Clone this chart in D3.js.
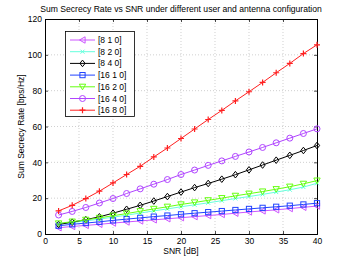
<!DOCTYPE html>
<html>
<head>
<meta charset="utf-8">
<script src="https://cdn.jsdelivr.net/npm/d3@7"></script>
<style>
  body { margin: 0; background: #fff; }
  text { font-family: "Liberation Sans", Arial, sans-serif; }
</style>
</head>
<body>
<div id="chart"></div>
<script>
var snr = [2,4,6,8,10,12,14,16,18,20,22,24,26,28,30,32,34,36,38,40];

var s810  = [3.5,4.2,4.8,5.4,6.1,6.7,7.3,7.9,8.5,9.1,9.7,10.3,10.9,11.6,12.3,12.9,13.5,14.2,14.9,15.6];
var s820  = [5.5,6.4,7.3,8.3,9.4,10.5,11.7,12.9,14.0,15.2,16.3,17.4,18.6,19.8,20.9,22.1,23.4,24.7,26.2,28.3];
var s840  = [5.3,6.6,8.0,9.6,11.6,13.8,16.0,18.4,20.9,23.4,25.9,28.2,30.6,33.1,35.8,38.5,41.2,43.9,46.6,49.4];
var s1610 = [4.6,5.4,6.1,6.8,7.6,8.3,9.0,9.7,10.3,11.0,11.6,12.2,12.8,13.4,14.0,14.6,15.2,15.8,16.5,17.2];
var s1620 = [5.9,6.9,7.9,9.0,10.2,11.4,12.7,14.0,15.2,16.5,17.6,18.8,20.0,21.3,22.5,23.7,25.0,26.4,28.0,29.8];
var s1640 = [10.6,12.6,14.8,17.3,19.8,22.6,25.2,27.8,30.4,33.2,35.7,38.3,40.8,43.3,45.8,48.3,50.9,53.5,56.1,58.7];
var s1680 = [12.9,16.0,19.8,23.9,28.5,33.2,37.8,43.0,48.0,53.3,58.6,63.9,69.0,74.3,79.4,84.6,90.0,95.2,100.7,105.6];

var names = ["[8 1 0]","[8 2 0]","[8 4 0]","[16 1 0]","[16 2 0]","[16 4 0]","[16 8 0]"];
var xTicks = [0,5,10,15,20,25,30,35,40];
var yTicks = [0,20,40,60,80,100,120];

var series = [
  {name:names[0], vals:s810,  color:"#cc55ff", marker:"triLeft"},
  {name:names[1], vals:s820,  color:"#66ffdd", marker:"x"},
  {name:names[2], vals:s840,  color:"#000000", marker:"diamond"},
  {name:names[3], vals:s1610, color:"#2244ff", marker:"square"},
  {name:names[4], vals:s1620, color:"#66ff11", marker:"triDown"},
  {name:names[5], vals:s1640, color:"#b044ff", marker:"circle"},
  {name:names[6], vals:s1680, color:"#ff2020", marker:"plus"}
];

var width = 349, height = 263;
var margin = {left:45, right:32, top:19, bottom:29};

var svg = d3.select("#chart").append("svg")
  .attr("width", width).attr("height", height);

var x = d3.scaleLinear().domain([0,40]).range([margin.left, width - margin.right]);
var y = d3.scaleLinear().domain([0,120]).range([height - margin.bottom, margin.top]);

// grid
svg.append("g").selectAll("line.gx").data(xTicks.slice(1, -1)).enter().append("line")
  .attr("x1", function(d) { return x(d); }).attr("x2", function(d) { return x(d); })
  .attr("y1", y(0)).attr("y2", y(120))
  .attr("stroke", "#bbb").attr("stroke-width", 0.7).attr("stroke-dasharray", "1,2");
svg.append("g").selectAll("line.gy").data(yTicks.slice(1, -1)).enter().append("line")
  .attr("y1", function(d) { return y(d); }).attr("y2", function(d) { return y(d); })
  .attr("x1", x(0)).attr("x2", x(40))
  .attr("stroke", "#bbb").attr("stroke-width", 0.7).attr("stroke-dasharray", "1,2");

// axes
var xAxis = svg.append("g").attr("transform", "translate(0," + y(0) + ")")
  .call(d3.axisBottom(x).tickValues(xTicks).tickSize(-3).tickPadding(4));
var yAxis = svg.append("g").attr("transform", "translate(" + x(0) + ",0)")
  .call(d3.axisLeft(y).tickValues(yTicks).tickSize(-3).tickPadding(3));
var xAxisTop = svg.append("g").attr("transform", "translate(0," + y(120) + ")")
  .call(d3.axisTop(x).tickValues(xTicks).tickSize(-3).tickFormat(""));
var yAxisRight = svg.append("g").attr("transform", "translate(" + x(40) + ",0)")
  .call(d3.axisRight(y).tickValues(yTicks).tickSize(-3).tickFormat(""));
[xAxis, yAxis, xAxisTop, yAxisRight].forEach(function(a) {
  a.selectAll("path").attr("stroke", "#000").attr("stroke-width", 1);
  a.selectAll("line").attr("stroke", "#000").attr("stroke-width", 0.7);
  a.selectAll("text").attr("font-size", "8.5px").attr("fill", "#000")
    .style("font-family", "Liberation Sans, Arial, sans-serif");
});

// markers
var drawMarker = function(g, type, color, cx, cy) {
  var r = 3;
  if (type == "circle") {
    g.append("circle").attr("cx", cx).attr("cy", cy).attr("r", r)
      .attr("fill", "none").attr("stroke", color).attr("stroke-width", 1);
  } else if (type == "square") {
    g.append("rect").attr("x", cx - 2.6).attr("y", cy - 2.6).attr("width", 5.2).attr("height", 5.2)
      .attr("fill", "none").attr("stroke", color).attr("stroke-width", 1);
  } else if (type == "diamond") {
    g.append("path").attr("d", "M" + cx + "," + (cy - 3.3) + " L" + (cx + 2.6) + "," + cy + " L" + cx + "," + (cy + 3.3) + " L" + (cx - 2.6) + "," + cy + " Z")
      .attr("fill", "none").attr("stroke", color).attr("stroke-width", 1);
  } else if (type == "triDown") {
    g.append("path").attr("d", "M" + (cx - 3.2) + "," + (cy - 2.6) + " L" + (cx + 3.2) + "," + (cy - 2.6) + " L" + cx + "," + (cy + 3) + " Z")
      .attr("fill", "none").attr("stroke", color).attr("stroke-width", 1);
  } else if (type == "triLeft") {
    g.append("path").attr("d", "M" + (cx - 3) + "," + cy + " L" + (cx + 2.6) + "," + (cy - 3.2) + " L" + (cx + 2.6) + "," + (cy + 3.2) + " Z")
      .attr("fill", "none").attr("stroke", color).attr("stroke-width", 1);
  } else if (type == "x") {
    g.append("path").attr("d", "M" + (cx - 2) + "," + (cy - 2) + " L" + (cx + 2) + "," + (cy + 2) + " M" + (cx - 2) + "," + (cy + 2) + " L" + (cx + 2) + "," + (cy - 2))
      .attr("fill", "none").attr("stroke", color).attr("stroke-width", 1);
  } else if (type == "plus") {
    g.append("path").attr("d", "M" + (cx - 3) + "," + cy + " L" + (cx + 3) + "," + cy + " M" + cx + "," + (cy - 3) + " L" + cx + "," + (cy + 3))
      .attr("fill", "none").attr("stroke", color).attr("stroke-width", 1.2);
  }
};

var line = d3.line()
  .x(function(d) { return x(d[0]); })
  .y(function(d) { return y(d[1]); });

series.forEach(function(s) {
  var pts = snr.map(function(v, i) { return [v, s.vals[i]]; });
  var g = svg.append("g");
  g.append("path").datum(pts).attr("d", line)
    .attr("fill", "none").attr("stroke", s.color).attr("stroke-width", 1);
  pts.forEach(function(p) { drawMarker(g, s.marker, s.color, x(p[0]), y(p[1])); });
});

// legend
var lg = svg.append("g");
lg.append("rect").attr("x", 65.5).attr("y", 31.5).attr("width", 69).attr("height", 85)
  .attr("fill", "#fff").attr("stroke", "#000").attr("stroke-width", 0.8);
series.forEach(function(s, i) {
  var ly = 40 + i * 11.7;
  lg.append("line").attr("x1", 70).attr("x2", 95).attr("y1", ly).attr("y2", ly)
    .attr("stroke", s.color).attr("stroke-width", 1);
  drawMarker(lg, s.marker, s.color, 82.5, ly);
  lg.append("text").attr("x", 98).attr("y", ly + 3).attr("font-size", "8.5px").text(s.name);
});

// labels
svg.append("text").attr("x", x(20)).attr("y", 12).attr("text-anchor", "middle")
  .attr("font-size", "8.6px").text("Sum Secrecy Rate vs SNR under different user and antenna configuration");
svg.append("text").attr("x", x(20)).attr("y", 254).attr("text-anchor", "middle")
  .attr("font-size", "8.5px").text("SNR [dB]");
svg.append("text").attr("transform", "translate(24," + y(60) + ") rotate(-90)").attr("text-anchor", "middle")
  .attr("font-size", "8.5px").text("Sum Secrecy Rate [bps/Hz]");
</script>
</body>
</html>
